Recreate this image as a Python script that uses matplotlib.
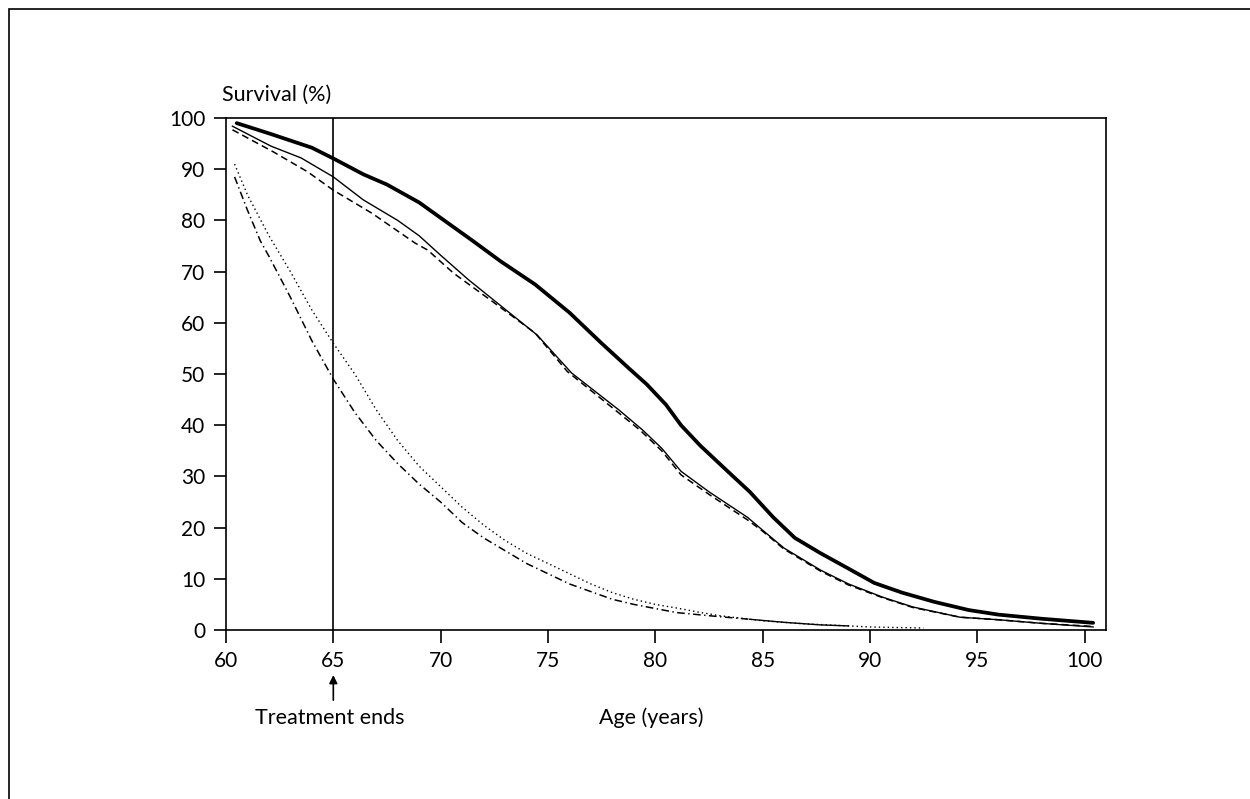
import matplotlib
matplotlib.use('Agg')
import matplotlib.pyplot as plt
from matplotlib.patches import Rectangle
import numpy as np

plt.rcParams['font.family'] = ['Lato', 'DejaVu Sans']
plt.rcParams['lines.scale_dashes'] = False

# curve 1: thick solid
age_thick = [60.5, 62, 64, 65, 66.4, 67.5, 69, 70, 71.5, 72.8, 74.4, 76, 77.5, 78.8,
             79.6, 80.5, 81.2, 82.1, 83.5, 84.4, 85.5, 86.5, 87.7, 89, 90.2, 91.5,
             93, 94.6, 96, 98, 100.4]
surv_thick = [99.0, 97.0, 94.2, 92.1, 89.0, 87.0, 83.5, 80.5, 76.0, 72.0, 67.5, 62.0,
              56.0, 51.0, 48.0, 44.0, 40.0, 36.0, 30.5, 27.0, 22.0, 18.0, 15.0, 12.0,
              9.2, 7.3, 5.5, 3.9, 3.0, 2.2, 1.4]

# curve 2: thin solid
age_thin = [60.3, 62.1, 63.5, 65, 66.4, 68, 69, 70, 71.3, 72.9, 74.5, 76.1, 78.3,
            79.4, 80.3, 81.2, 82.5, 84.3, 85, 86, 87.7, 89, 90.6, 92, 94.2, 96, 98, 100.4]
surv_thin = [98.4, 94.5, 92.2, 88.5, 84.0, 80.0, 77.0, 73.2, 68.4, 63.0, 57.6, 50.2,
             43.0, 39.1, 35.5, 31.0, 27.0, 22.0, 19.5, 16.0, 11.7, 9.0, 6.4, 4.5,
             2.5, 2.0, 1.3, 0.6]

# curve 3: dashed
age_dash = [60.3, 62.2, 63.8, 65, 66.8, 68.8, 69.4, 70.6, 72.5, 74.4, 75.9, 78.3,
            79.3, 80.3, 81.2, 82.5, 84.3, 85, 86, 87.7, 89, 90.6, 92, 94.2, 96, 98, 100.4]
surv_dash = [97.7, 93.4, 89.5, 85.9, 81.4, 75.6, 74.2, 69.7, 63.9, 58.0, 50.5, 42.4,
             39.0, 35.0, 30.3, 26.5, 21.5, 19.3, 15.8, 11.5, 8.8, 6.3, 4.4, 2.5,
             2.0, 1.3, 0.7]

# curve 4: dotted
age_dot = [60.4, 61, 62, 63, 64, 65, 66, 67, 68, 69, 70, 71, 72, 73, 74, 75, 76, 77,
           78, 79, 80, 81, 82, 83, 84, 85, 86, 87, 88, 89, 90, 91, 92.5]
surv_dot = [91.0, 85.0, 77.0, 70.0, 62.5, 56.0, 50.0, 43.0, 37.0, 32.0, 28.0, 24.0,
            20.5, 17.5, 15.0, 13.0, 11.0, 9.0, 7.3, 6.0, 5.0, 4.3, 3.5, 2.8, 2.3,
            1.8, 1.5, 1.2, 1.0, 0.8, 0.6, 0.5, 0.4]

# curve 5: dash-dot (drawn solid past 84.4)
age_dd = [60.4, 61, 61.6, 62, 63, 64, 65, 66, 67, 68, 69, 70, 71, 72, 73, 74, 75, 76,
          77, 78, 79, 80, 81, 82, 83, 84.4, 86, 87.7, 89]
surv_dd = [88.5, 82.0, 76.0, 73.0, 65.0, 56.5, 49.0, 42.5, 37.0, 32.5, 28.5, 25.0,
           21.0, 18.0, 15.5, 13.0, 11.0, 9.0, 7.5, 6.0, 5.0, 4.2, 3.4, 3.0, 2.6,
           2.1, 1.5, 1.0, 0.8]

x_ticks = [60, 65, 70, 75, 80, 85, 90, 95, 100]
y_ticks = list(range(0, 101, 10))
treatment_end = 65

fig = plt.figure(figsize=(12.5, 7.99), dpi=100)
ax = fig.add_axes([0.1808, 0.2115, 0.7040, 0.6408])

ax.plot(age_thick, surv_thick, color='black', linewidth=2.7, solid_capstyle='round')
ax.plot(age_thin, surv_thin, color='black', linewidth=1.0)
ax.plot(age_dash, surv_dash, color='black', linewidth=1.1, linestyle=(0, (5, 3)))
ax.plot(age_dot, surv_dot, color='black', linewidth=1.0, linestyle=(0, (1, 2.2)))

age_dd = np.array(age_dd)
surv_dd = np.array(surv_dd)
m1 = age_dd <= 84.4
m2 = age_dd >= 84.4
ax.plot(age_dd[m1], surv_dd[m1], color='black', linewidth=1.1,
        linestyle=(0, (5.5, 2.5, 1, 2.5)))
ax.plot(age_dd[m2], surv_dd[m2], color='black', linewidth=1.0)

ax.axvline(treatment_end, color='black', linewidth=1.2)

ax.set_xlim(60, 101)
ax.set_ylim(0, 100)
ax.set_xticks(x_ticks)
ax.set_yticks(y_ticks)
for s in ax.spines.values():
    s.set_linewidth(1.2)
ax.tick_params(axis='both', direction='out', length=9, width=1.2,
               labelsize=15, pad=6, colors='black')

fig.text(0.1776, 0.881, 'Survival (%)', fontsize=15.5, ha='left', va='center')

# arrow + labels under the x axis
xt = ax.get_xaxis_transform()
ax.annotate('', xy=(treatment_end, -0.088), xytext=(treatment_end, -0.137),
            xycoords=xt, textcoords=xt, annotation_clip=False,
            arrowprops=dict(arrowstyle='-|>', color='black', lw=1.2,
                            mutation_scale=12, shrinkA=0, shrinkB=0))
ax.text(treatment_end - 0.15, -0.172, 'Treatment ends', transform=xt, fontsize=15.5,
        ha='center', va='center')
ax.text(79.8, -0.172, 'Age (years)', transform=xt, fontsize=15.5,
        ha='center', va='center')

# outer frame (only top and left edges fall inside the picture)
fig.patches.append(Rectangle((8.5 / 1250, -0.2), 1.5, 1.2 - 9.5 / 799,
                             transform=fig.transFigure, fill=False,
                             edgecolor='black', linewidth=1.2))

fig.savefig('out.png', dpi=100)
